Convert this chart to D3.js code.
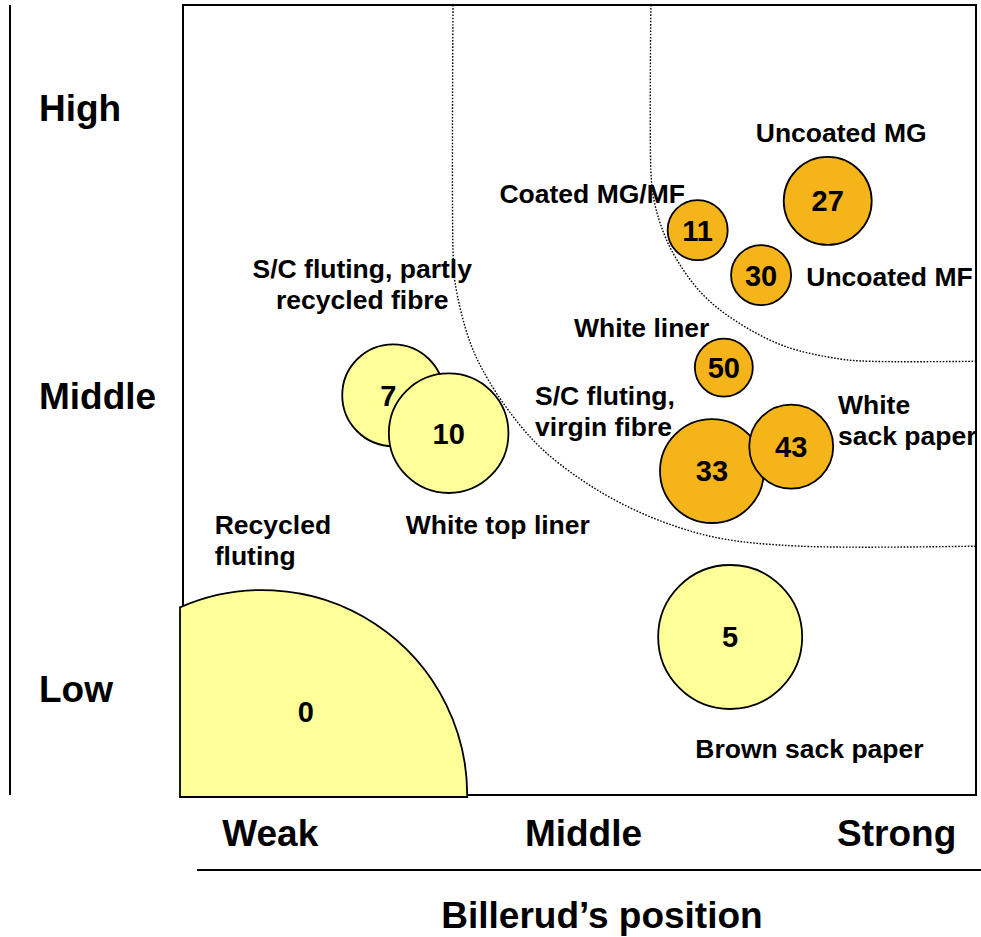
<!DOCTYPE html>
<html>
<head>
<meta charset="utf-8">
<script src="https://cdn.jsdelivr.net/npm/d3@7"></script>
<style>
  html, body { margin: 0; padding: 0; background: #fff; }
  svg { display: block; font-family: "Liberation Sans", Arial, sans-serif; font-weight: bold; }
</style>
</head>
<body>
<svg id="chart" width="981" height="937"></svg>
<script>
// ---- data (x: Billerud's position 0–100, y: attractiveness 0–100) ----
const bubbleIds    = ["0", "5", "7", "10", "33", "43", "50", "11", "30", "27"];
const bubbleX      = [10.0, 69.0, 26.5, 33.5, 66.7, 76.7, 68.2, 64.9, 72.9, 81.3];
const bubbleY      = [0.0, 20.0, 50.6, 45.8, 41.0, 44.1, 54.1, 71.5, 65.8, 75.2];
const bubbleSize   = [810, 100, 50, 69, 52, 34, 16.2, 17.4, 17.4, 37.3];
const bubbleGroup  = ["light", "light", "light", "light", "dark", "dark", "dark", "dark", "dark", "dark"];

const segmentNames = [
  ["Uncoated MG"], ["Coated MG/MF"], ["Uncoated MF"], ["White liner"],
  ["S/C fluting, partly", "recycled fibre"], ["S/C fluting,", "virgin fibre"],
  ["White", "sack paper"], ["Recycled", "fluting"], ["White top liner"], ["Brown sack paper"]
];
const segmentX      = [83.0, 63.3, 78.6, 49.3, 22.6, 44.4, 82.6, 4.0, 28.1, 64.6];
const segmentY      = [83.8, 76.1, 65.6, 59.2, 66.7, 50.6, 49.4, 34.3, 34.3, 5.9];
const segmentAnchor = ["middle", "end", "start", "start", "middle", "start", "start", "start", "start", "start"];

const yTickLabels = ["High", "Middle", "Low"];
const yTickValues = [87.0, 50.6, 13.5];
const xTickLabels = ["Weak", "Middle", "Strong"];
const xTickValues = [11, 50.5, 90];
const xTitle = "Billerud’s position";

// hand-drawn dotted boundaries
const boundaryInner = [[34.05,100],[34.05,69.0],[34.3,64.9],[36.2,57.3],[38.7,52.2],[42.5,46.8],[45.6,43.5],[50.1,40.0],[55.1,37.0],[61.0,34.4],[67.7,32.5],[77.8,31.5],[100,31.5]];
const boundaryOuter = [[59.0,100],[59.0,79.1],[59.3,75.8],[60.2,72.3],[61.9,68.4],[65.4,63.5],[69.7,60.0],[75.9,56.8],[82.8,55.2],[86.6,54.9],[100,54.9]];
const zeroLabelPos = [15.5, 10.5];
const sevenLabelShift = -0.6;

// ---- layout ----
const svg = d3.select("#chart");
const plot = { left: 183, right: 976, top: 5, bottom: 795 };
const x = d3.scaleLinear().domain([0, 100]).range([plot.left, plot.right]);
const y = d3.scaleLinear().domain([0, 100]).range([plot.bottom, plot.top]);
const r = d3.scaleSqrt().domain([0, 100]).range([0, 72]);
const fillFor = g => g === "dark" ? "#F4B41A" : "#FFFF99";

// left vertical axis line
svg.append("line").attr("x1", 10).attr("x2", 10).attr("y1", plot.top).attr("y2", plot.bottom)
  .attr("stroke", "#000").attr("stroke-width", 2);

// plot frame
svg.append("rect").attr("x", plot.left).attr("y", plot.top)
  .attr("width", plot.right - plot.left).attr("height", plot.bottom - plot.top)
  .attr("fill", "none").attr("stroke", "#000").attr("stroke-width", 2);

// dotted boundaries
const line = d3.line().x(d => x(d[0])).y(d => y(d[1])).curve(d3.curveCatmullRom.alpha(0.5));
[boundaryInner, boundaryOuter].forEach(b => {
  svg.append("path").attr("d", line(b)).attr("fill", "none")
    .attr("stroke", "#000").attr("stroke-width", 1.4).attr("stroke-dasharray", "1.6,1.6");
});

// segment labels
segmentNames.forEach((lines, i) => {
  const t = svg.append("text").attr("x", x(segmentX[i])).attr("y", y(segmentY[i]))
    .attr("text-anchor", segmentAnchor[i]).attr("font-size", 26.5).attr("fill", "#000");
  lines.forEach((s, j) => {
    t.append("tspan").attr("x", x(segmentX[i])).attr("dy", j === 0 ? "0.358em" : "1.17em").text(s);
  });
});

// bubbles
bubbleIds.forEach((id, i) => {
  const cx = x(bubbleX[i]), cy = y(bubbleY[i]), rr = r(bubbleSize[i]);
  if (id === "0") {
    // circle cut by the frame's left and bottom edges
    const L = plot.left - 3, B = plot.bottom + 2;
    const yL = cy - Math.sqrt(rr * rr - (L - cx) * (L - cx));
    const xB = cx + Math.sqrt(rr * rr - (B - cy) * (B - cy));
    svg.append("path")
      .attr("d", `M${L},${B} L${L},${yL} A${rr},${rr} 0 0 1 ${xB},${B} Z`)
      .attr("fill", fillFor(bubbleGroup[i])).attr("stroke", "#000").attr("stroke-width", 1.8);
    svg.append("text").attr("x", x(zeroLabelPos[0])).attr("y", y(zeroLabelPos[1]))
      .attr("dy", "0.358em").attr("text-anchor", "middle").attr("font-size", 29).text(id);
  } else {
    svg.append("circle").attr("cx", cx).attr("cy", cy).attr("r", rr)
      .attr("fill", fillFor(bubbleGroup[i])).attr("stroke", "#000").attr("stroke-width", 1.8);
    const lx = id === "7" ? x(bubbleX[i] + sevenLabelShift) : cx;
    svg.append("text").attr("x", lx).attr("y", cy).attr("dy", "0.358em")
      .attr("text-anchor", "middle").attr("font-size", 29).text(id);
  }
});

// y category labels
yTickLabels.forEach((s, i) => {
  svg.append("text").attr("x", 39).attr("y", y(yTickValues[i])).attr("dy", "0.358em")
    .attr("font-size", 37).text(s);
});

// x category labels
xTickLabels.forEach((s, i) => {
  svg.append("text").attr("x", x(xTickValues[i])).attr("y", 833).attr("dy", "0.358em")
    .attr("text-anchor", "middle").attr("font-size", 37).text(s);
});

// separator line and axis title
svg.append("line").attr("x1", 197).attr("x2", 981).attr("y1", 870).attr("y2", 870)
  .attr("stroke", "#000").attr("stroke-width", 2);
svg.append("text").attr("x", 602).attr("y", 915).attr("dy", "0.358em")
  .attr("text-anchor", "middle").attr("font-size", 37).text(xTitle);
</script>
</body>
</html>
